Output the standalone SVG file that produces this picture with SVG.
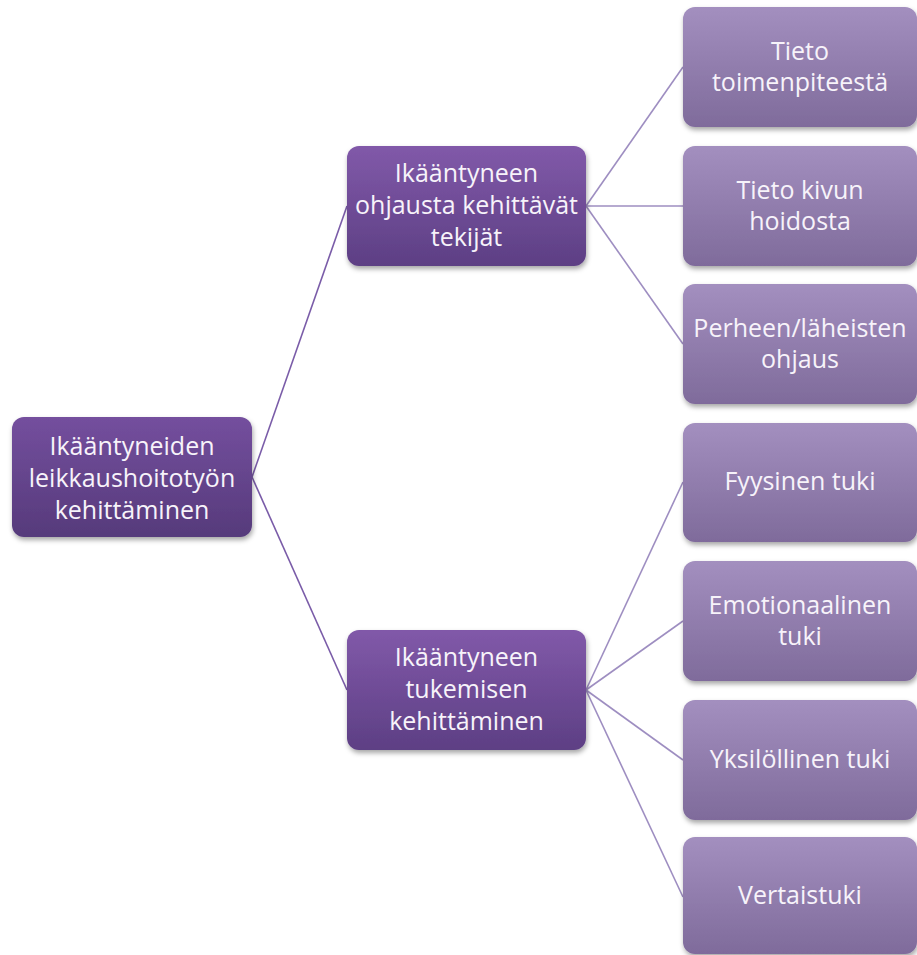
<svg xmlns="http://www.w3.org/2000/svg" width="917" height="955" viewBox="0 0 917 955">
<defs>
<linearGradient id="gRoot" x1="0" y1="0" x2="0" y2="1"><stop offset="0" stop-color="#744f9e"/><stop offset="1" stop-color="#563a7b"/></linearGradient>
<linearGradient id="gMid" x1="0" y1="0" x2="0" y2="1"><stop offset="0" stop-color="#8159a9"/><stop offset="1" stop-color="#5d3f84"/></linearGradient>
<linearGradient id="gLeaf" x1="0" y1="0" x2="0" y2="1"><stop offset="0" stop-color="#a38fbf"/><stop offset="1" stop-color="#7f6b9b"/></linearGradient>
<filter id="sh" x="-10%" y="-10%" width="125%" height="130%"><feDropShadow dx="1" dy="3" stdDeviation="2.5" flood-color="#000" flood-opacity="0.35"/></filter>
</defs>
<style>
.n rect{filter:url(#sh)}
.n text{font-family:"Open Sans","Noto Sans",sans-serif;font-size:25px;fill:#f7f3fa;text-anchor:middle}
.c1{stroke:#7a5ca8;stroke-width:1.6;fill:none}
.c2{stroke:#9e8ec1;stroke-width:1.6;fill:none}
</style>
<rect width="917" height="955" fill="#ffffff"/>
<g id="connectors">
<line class="c1" x1="252" y1="477" x2="347" y2="206"/>
<line class="c1" x1="252" y1="477" x2="347" y2="690"/>
<line class="c2" x1="586" y1="206" x2="683" y2="67"/>
<line class="c2" x1="586" y1="206" x2="683" y2="206"/>
<line class="c2" x1="586" y1="206" x2="683" y2="344"/>
<line class="c2" x1="586" y1="690" x2="683" y2="482"/>
<line class="c2" x1="586" y1="690" x2="683" y2="621"/>
<line class="c2" x1="586" y1="690" x2="683" y2="760"/>
<line class="c2" x1="586" y1="690" x2="683" y2="897"/>
</g>
<g id="root" class="n">
<rect x="12" y="417" width="240" height="120" rx="12" fill="url(#gRoot)"/>
<text x="132"><tspan x="132" y="455">Ikääntyneiden</tspan><tspan x="132" y="487">leikkaushoitotyön</tspan><tspan x="132" y="519">kehittäminen</tspan></text>
</g>
<g id="mid1" class="n">
<rect x="347" y="146" width="239" height="120" rx="12" fill="url(#gMid)"/>
<text x="466.5"><tspan x="466.5" y="182">Ikääntyneen</tspan><tspan x="466.5" y="214">ohjausta kehittävät</tspan><tspan x="466.5" y="246">tekijät</tspan></text>
</g>
<g id="mid2" class="n">
<rect x="347" y="630" width="239" height="120" rx="12" fill="url(#gMid)"/>
<text x="466.5"><tspan x="466.5" y="666">Ikääntyneen</tspan><tspan x="466.5" y="698">tukemisen</tspan><tspan x="466.5" y="730">kehittäminen</tspan></text>
</g>
<g id="leaf1" class="n">
<rect x="683" y="7" width="234" height="120" rx="12" fill="url(#gLeaf)"/>
<text x="800"><tspan x="800" y="60">Tieto</tspan><tspan x="800" y="91">toimenpiteestä</tspan></text>
</g>
<g id="leaf2" class="n">
<rect x="683" y="146" width="234" height="120" rx="12" fill="url(#gLeaf)"/>
<text x="800"><tspan x="800" y="199">Tieto kivun</tspan><tspan x="800" y="230">hoidosta</tspan></text>
</g>
<g id="leaf3" class="n">
<rect x="683" y="284" width="234" height="120" rx="12" fill="url(#gLeaf)"/>
<text x="800"><tspan x="800" y="337">Perheen/läheisten</tspan><tspan x="800" y="368">ohjaus</tspan></text>
</g>
<g id="leaf4" class="n">
<rect x="683" y="423" width="234" height="119" rx="12" fill="url(#gLeaf)"/>
<text x="800" y="490">Fyysinen tuki</text>
</g>
<g id="leaf5" class="n">
<rect x="683" y="561" width="234" height="120" rx="12" fill="url(#gLeaf)"/>
<text x="800"><tspan x="800" y="614">Emotionaalinen</tspan><tspan x="800" y="645">tuki</tspan></text>
</g>
<g id="leaf6" class="n">
<rect x="683" y="700" width="234" height="120" rx="12" fill="url(#gLeaf)"/>
<text x="800" y="768">Yksilöllinen tuki</text>
</g>
<g id="leaf7" class="n">
<rect x="683" y="837" width="234" height="117" rx="12" fill="url(#gLeaf)"/>
<text x="800" y="904">Vertaistuki</text>
</g>
</svg>
